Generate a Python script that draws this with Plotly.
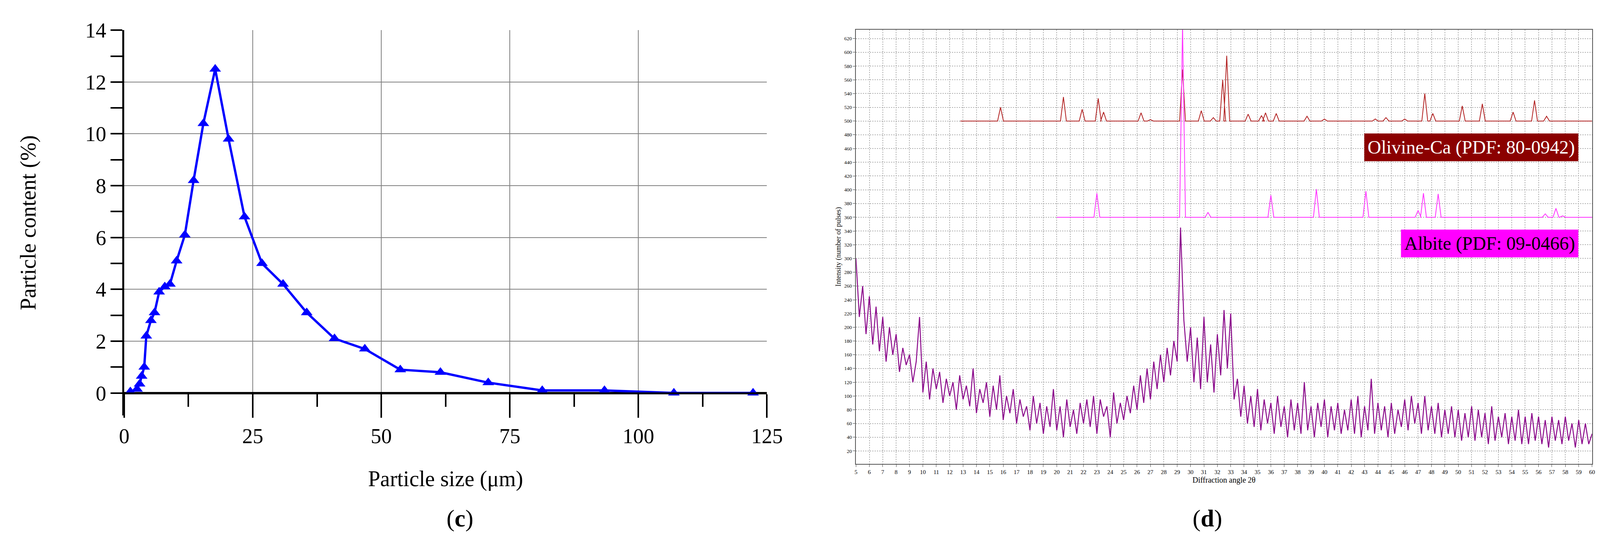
import numpy as np
import plotly.graph_objects as go

# ---- panel (c): particle size distribution ----
size_um = [1.2, 2.5, 3.0, 3.4, 3.9, 4.3, 5.2, 5.9, 6.8, 7.9, 8.9, 10.2, 11.8, 13.5, 15.4,
           17.7, 20.3, 23.4, 26.8, 30.9, 35.5, 40.9, 46.8, 53.7, 61.5, 70.8, 81.3, 93.4, 106.9, 122.3]
content_pct = [0.05, 0.15, 0.35, 0.65, 1.0, 2.2, 2.8, 3.1, 3.9, 4.1, 4.2, 5.1, 6.1, 8.2, 10.4,
               12.5, 9.8, 6.8, 5.0, 4.2, 3.1, 2.1, 1.7, 0.9, 0.8, 0.4, 0.1, 0.1, 0.0, 0.0]

# ---- panel (d): XRD pattern ----
angle_start, angle_step = 5.0, 0.25
intensity = [
    300, 215, 260, 190, 245, 175, 230, 165, 215, 150, 200, 160, 190, 135, 170, 145, 160, 120, 150, 215,
    105, 150, 95, 140, 110, 135, 90, 125, 100, 120, 80, 130, 95, 115, 85, 140, 75, 110, 90, 120,
    70, 115, 80, 130, 65, 100, 75, 110, 60, 95, 70, 85, 50, 100, 60, 90, 45, 85, 55, 110,
    50, 85, 40, 95, 55, 80, 45, 90, 60, 95, 55, 100, 45, 95, 70, 85, 40, 105, 60, 90,
    65, 100, 75, 115, 80, 130, 90, 140, 95, 150, 110, 160, 120, 170, 130, 180, 150, 345, 210, 150,
    200, 120, 185, 110, 215, 120, 175, 105, 190, 130, 225, 140, 220, 95, 125, 70, 115, 60, 100, 55,
    110, 50, 95, 60, 90, 45, 100, 55, 85, 40, 95, 50, 90, 45, 120, 50, 85, 40, 90, 55,
    95, 40, 85, 50, 90, 45, 80, 50, 95, 45, 100, 40, 85, 50, 125, 45, 90, 50, 85, 40,
    90, 45, 80, 55, 95, 50, 100, 60, 90, 45, 100, 50, 85, 45, 90, 40, 80, 45, 85, 40,
    80, 35, 75, 40, 85, 35, 80, 40, 75, 30, 85, 35, 70, 40, 75, 30, 70, 35, 80, 30,
    70, 30, 75, 35, 70, 30, 65, 25, 70, 35, 65, 30, 70, 35, 60, 25, 65, 30, 60, 30,
    45]
angles = angle_start + angle_step * np.arange(len(intensity))

olivine_base = 500
olivine_range = [12.8, 60.0]
olivine_pos = [15.8, 20.5, 21.9, 23.1, 23.5, 26.3, 27.0, 29.4, 30.8, 31.7, 32.4, 32.7, 34.3, 35.3,
               35.6, 36.4, 38.7, 40.0, 43.8, 44.6, 46.0, 47.5, 48.1, 50.3, 51.8, 54.1, 55.7, 56.6]
olivine_height = [520, 535, 517, 533, 513, 512, 502, 575, 515, 505, 560, 595, 510, 508,
                  512, 511, 507, 503, 503, 505, 503, 540, 511, 522, 525, 513, 530, 507]

albite_base = 360
albite_range = [20.0, 60.0]
albite_pos = [23.0, 29.4, 31.3, 36.0, 39.4, 43.1, 47.0, 47.4, 48.5, 56.5, 57.3, 57.8]
albite_height = [395, 640, 367, 392, 401, 398, 370, 395, 394, 365, 373, 362]


def stick_pattern(base, span, pos, height, w=0.22):
    xs, ys = [span[0]], [base]
    for p, h in zip(pos, height):
        xs += [p - w, p, p + w]
        ys += [base, h, base]
    xs.append(span[1])
    ys.append(base)
    return xs, ys


fig = go.Figure()

fig.add_trace(go.Scatter(
    x=size_um, y=content_pct, mode='lines+markers',
    line=dict(color='#0000ff', width=6),
    marker=dict(symbol='triangle-up', size=26, color='#0000ff'),
    xaxis='x', yaxis='y', showlegend=False))

fig.add_trace(go.Scatter(
    x=angles, y=intensity, mode='lines',
    line=dict(color='#8b0a8b', width=2.5),
    xaxis='x2', yaxis='y2', showlegend=False))

ox, oy = stick_pattern(olivine_base, olivine_range, olivine_pos, olivine_height)
fig.add_trace(go.Scatter(x=ox, y=oy, mode='lines', line=dict(color='#b22222', width=2),
                         xaxis='x2', yaxis='y2', showlegend=False))
ax, ay = stick_pattern(albite_base, albite_range, albite_pos, albite_height)
fig.add_trace(go.Scatter(x=ax, y=ay, mode='lines', line=dict(color='#ff33ff', width=2),
                         xaxis='x2', yaxis='y2', showlegend=False))

serif = 'Liberation Serif'

fig.update_layout(
    width=4124, height=1415,
    margin=dict(l=0, r=0, t=0, b=0),
    paper_bgcolor='white', plot_bgcolor='white',
    font=dict(family=serif, color='black'),
    xaxis=dict(
        domain=[0.0727, 0.477], range=[0, 125], dtick=25,
        anchor='free', position=0.301,
        showgrid=True, gridcolor='#808080', gridwidth=2,
        ticks='outside', ticklen=60, tickwidth=4, tickcolor='black',
        minor=dict(dtick=12.5, ticks='outside', ticklen=32, tickwidth=4, tickcolor='black', showgrid=False),
        showline=True, linecolor='black', linewidth=5,
        tickfont=dict(size=54), zeroline=False,
        title=dict(text='Particle size (μm)', font=dict(size=56), standoff=60)),
    yaxis=dict(
        domain=[0.260, 0.971], range=[-0.86, 14], dtick=2, tick0=0,
        showgrid=True, gridcolor='#808080', gridwidth=2,
        ticks='outside', ticklen=30, tickwidth=4, tickcolor='black',
        minor=dict(dtick=1, ticks='outside', ticklen=30, tickwidth=4, tickcolor='black', showgrid=False),
        showline=True, linecolor='black', linewidth=5,
        tickfont=dict(size=54), zeroline=True, zerolinecolor='black', zerolinewidth=5,
        title=dict(text='Particle content (%)', font=dict(size=56), standoff=110)),
    xaxis2=dict(
        domain=[0.533, 0.996], range=[5, 60], dtick=1, anchor='y2',
        showgrid=True, gridcolor='#b0b0b0', griddash='dot', gridwidth=2,
        ticks='outside', ticklen=6, showline=True, mirror=True, linecolor='#555555', linewidth=2,
        tickfont=dict(size=15), zeroline=False,
        title=dict(text='Diffraction angle 2θ', font=dict(size=20), standoff=6)),
    yaxis2=dict(
        domain=[0.170, 0.972], range=[1, 633], dtick=20, tick0=0, anchor='x2',
        showgrid=True, gridcolor='#b0b0b0', griddash='dot', gridwidth=2,
        ticks='outside', ticklen=6, showline=True, mirror=True, linecolor='#555555', linewidth=2,
        tickfont=dict(size=13), zeroline=False,
        title=dict(text='Intensity (number of pulses)', font=dict(size=18), standoff=4)),
    annotations=[
        dict(text='(<b>c</b>)', x=0.275, y=0.043, xref='paper', yref='paper',
             showarrow=False, font=dict(size=62)),
        dict(text='(<b>d</b>)', x=0.764, y=0.043, xref='paper', yref='paper',
             showarrow=False, font=dict(size=62)),
        dict(text='Olivine-Ca (PDF: 80-0942)', x=59.0, y=462, xref='x2', yref='y2',
             xanchor='right', showarrow=False, bgcolor='#8b0000', borderpad=8,
             font=dict(size=48, color='white')),
        dict(text='Albite (PDF: 09-0466)', x=59.0, y=322, xref='x2', yref='y2',
             xanchor='right', showarrow=False, bgcolor='#ff00ff', borderpad=8,
             font=dict(size=48, color='black')),
    ],
)

fig.write_html('out.html')
